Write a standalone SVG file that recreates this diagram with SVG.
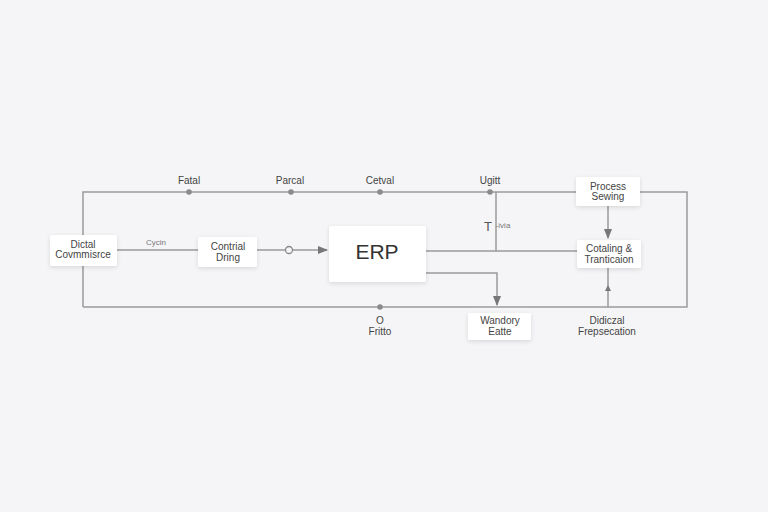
<svg xmlns="http://www.w3.org/2000/svg" width="768" height="512" viewBox="0 0 768 512">
<defs>
<marker id="arr" viewBox="0 0 10 10" refX="9" refY="5" markerWidth="7" markerHeight="7" orient="auto"><path d="M0,1 L10,5 L0,9 z" fill="#777"/></marker>
<filter id="sh" x="-20%" y="-20%" width="140%" height="150%"><feDropShadow dx="0" dy="1.5" stdDeviation="2" flood-color="#000" flood-opacity="0.12"/></filter>
<style>
.ln{fill:none;stroke:#9a9a9a;stroke-width:1.5}
.box{fill:#ffffff;filter:url(#sh)}
.t{font-family:"Liberation Sans",Arial,sans-serif;font-size:10px;fill:#444;text-anchor:middle}
.s{font-family:"Liberation Sans",Arial,sans-serif;font-size:8px;fill:#777;text-anchor:middle}
.dot{fill:#8a8a8a}
</style>
</defs>
<rect width="768" height="512" fill="#f5f5f7"/>
<g id="connectors">
<path class="ln" d="M83,307 L83,192 L577,192"/>
<path class="ln" d="M640,192 L687,192 L687,307 L83,307"/>
<path class="ln" d="M117,250 L198,250"/>
<path class="ln" d="M257,250 L285,250 M293,250 L327,250" marker-end="url(#arr)"/>
<circle cx="289" cy="250" r="3.5" fill="#f5f5f7" stroke="#888" stroke-width="1.3"/>
<path class="ln" d="M426,251 L577,251"/>
<path class="ln" d="M496,192 L496,251"/>
<path class="ln" d="M426,273 L497,273 L497,305" marker-end="url(#arr)"/>
<path class="ln" d="M608,206 L608,238" marker-end="url(#arr)"/>
<path class="ln" d="M608,307 L608,268"/>
<path d="M605,291 L608,285 L611,291 z" fill="#777"/>
<circle class="dot" cx="189" cy="192" r="2.8"/>
<circle class="dot" cx="291" cy="192" r="2.8"/>
<circle class="dot" cx="380" cy="192" r="2.8"/>
<circle class="dot" cx="490" cy="192" r="2.8"/>
<circle class="dot" cx="380" cy="307" r="2.8"/>
<text class="t" x="189" y="184">Fatal</text>
<text class="t" x="290" y="184">Parcal</text>
<text class="t" x="380" y="184">Cetval</text>
<text class="t" x="490" y="184">Ugitt</text>
<text class="s" x="156" y="245">Cycin</text>
<text x="488" y="231" font-family="Liberation Sans, Arial, sans-serif" font-size="13" fill="#555" text-anchor="middle">T</text>
<text class="s" x="503" y="228">-ivia</text>
<text class="t" x="380" y="324">O</text>
<text class="t" x="380" y="335">Fritto</text>
<text class="t" x="607" y="324">Didiczal</text>
<text class="t" x="607" y="335">Frepsecation</text>
</g>
<g id="digital">
<rect class="box" x="50" y="235" width="67" height="31" rx="2"/>
<text class="t" x="83" y="248">Dictal</text>
<text class="t" x="83" y="258">Covmmisrce</text>
</g>
<g id="central">
<rect class="box" x="198" y="237" width="59" height="30" rx="2"/>
<text class="t" x="228" y="250">Contrial</text>
<text class="t" x="228" y="261">Dring</text>
</g>
<g id="erp">
<rect class="box" x="329" y="226" width="97" height="56" rx="2"/>
<text x="377" y="259" font-family="Liberation Sans, Arial, sans-serif" font-size="21" fill="#333" text-anchor="middle">ERP</text>
</g>
<g id="process">
<rect class="box" x="576" y="177" width="64" height="29" rx="2"/>
<text class="t" x="608" y="190">Process</text>
<text class="t" x="608" y="200">Sewing</text>
</g>
<g id="catalog">
<rect class="box" x="577" y="240" width="64" height="28" rx="2"/>
<text class="t" x="609" y="252">Cotaling &amp;</text>
<text class="t" x="609" y="263">Tranticaion</text>
</g>
<g id="wandory">
<rect class="box" x="468" y="313" width="63" height="27" rx="2"/>
<text class="t" x="500" y="324">Wandory</text>
<text class="t" x="500" y="335">Eatte</text>
</g>
</svg>
